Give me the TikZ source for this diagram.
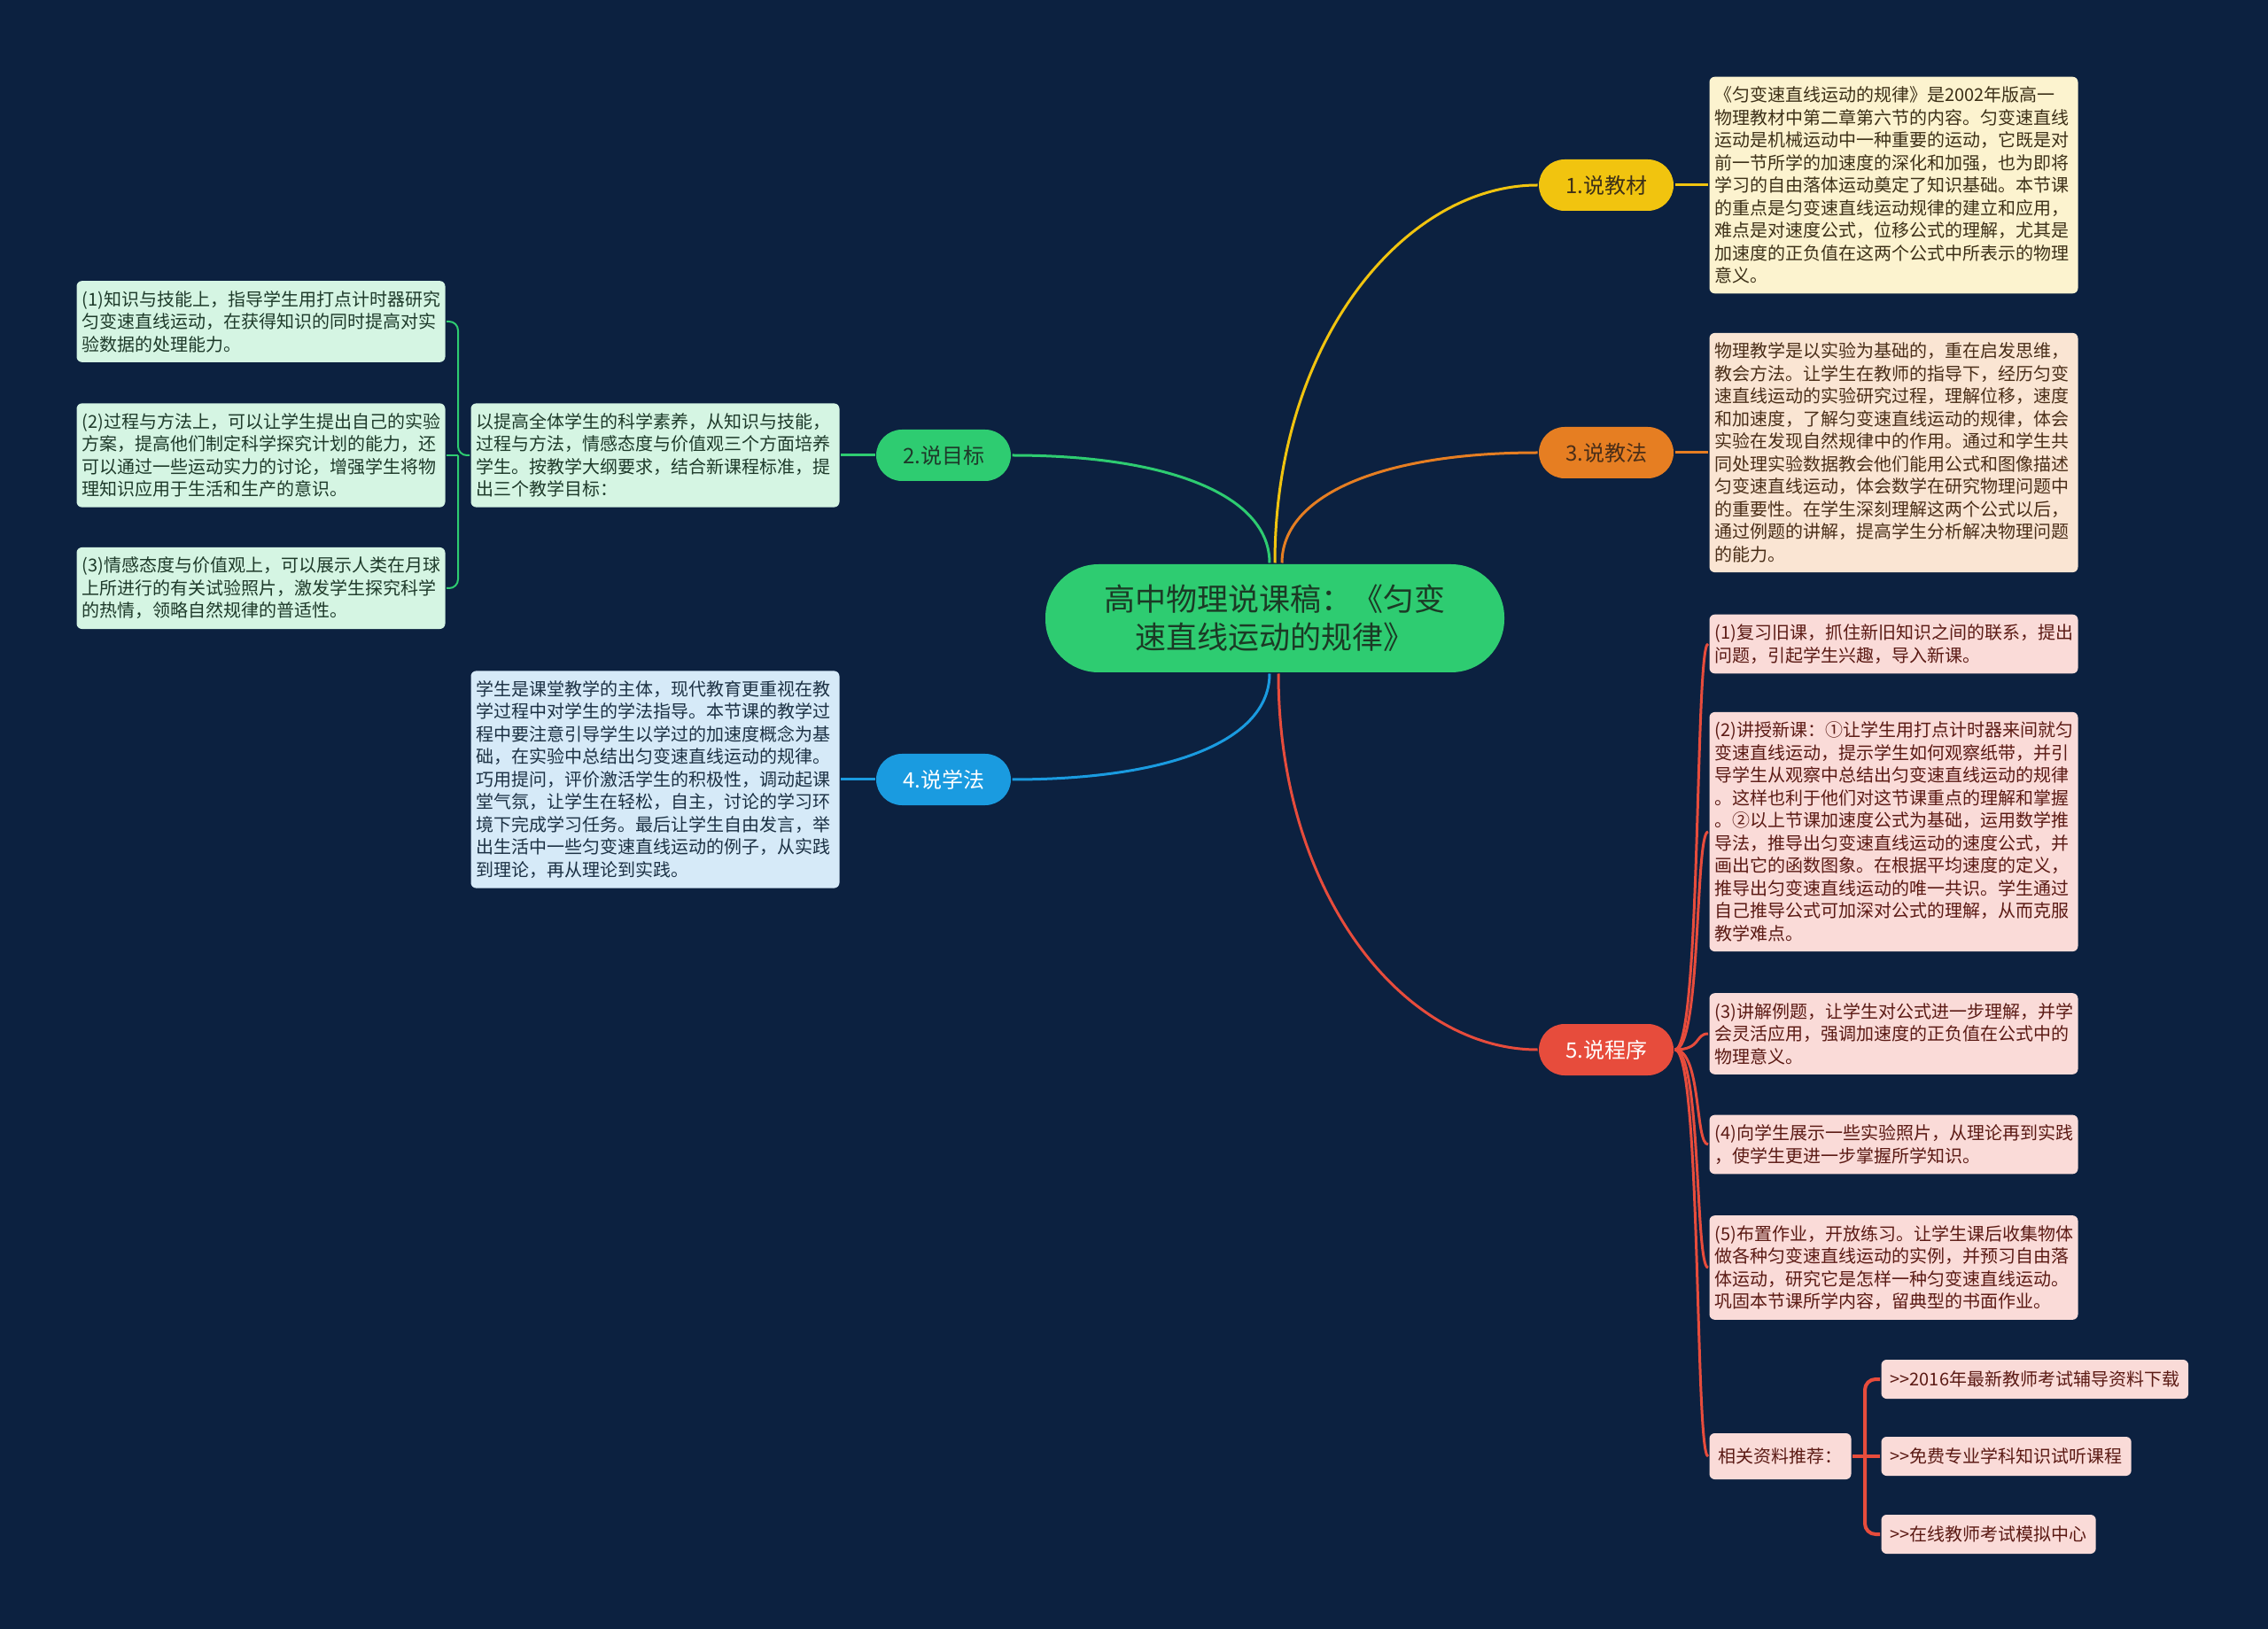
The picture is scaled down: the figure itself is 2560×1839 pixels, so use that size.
\documentclass[tikz,border=0pt]{standalone}
\usepackage{fontspec}
\setmainfont{Noto Sans CJK SC}
\usepackage{xcolor}
\usepackage{tikz}

\definecolor{bgcol}{HTML}{0C2140}
\definecolor{rootcol}{HTML}{2ECC71}
\definecolor{roottxt}{HTML}{1B3A25}
\definecolor{yelcol}{HTML}{F1C40F}
\definecolor{yelfill}{HTML}{FCF3CF}
\definecolor{yeltxt}{HTML}{3D3018}
\definecolor{grncol}{HTML}{2ECC71}
\definecolor{grnfill}{HTML}{D5F5E3}
\definecolor{grntxt}{HTML}{1E3A2A}
\definecolor{oracol}{HTML}{E67E22}
\definecolor{orafill}{HTML}{FAE5D3}
\definecolor{oratxt}{HTML}{4A2E18}
\definecolor{blucol}{HTML}{1A9BE0}
\definecolor{blufill}{HTML}{D6EAF8}
\definecolor{blutxt}{HTML}{1C3144}
\definecolor{redcol}{HTML}{E74C3C}
\definecolor{redfill}{HTML}{FADBD8}
\definecolor{redtxt}{HTML}{5B1A14}

\begin{document}
\begin{tikzpicture}[x=0.5pt,y=-0.5pt,line width=1.5pt,
  every node/.style={inner sep=0pt},
  root/.style={fill=rootcol,text=roottxt,rounded corners=30pt,minimum width=259pt,
    minimum height=61pt,align=center,font=\fontsize{17.5pt}{21.5pt}\selectfont},
  topic/.style={rounded corners=14.5pt,minimum width=76pt,minimum height=29pt,
    font=\fontsize{12pt}{14pt}\selectfont},
  leaf/.style={anchor=west,rounded corners=3pt,text width=202pt,inner xsep=3pt,
    inner ysep=5.5pt,align=left,font=\fontsize{10pt}{12.75pt}\selectfont},
  tag/.style={anchor=west,fill=redfill,text=redtxt,rounded corners=3pt,inner xsep=5pt,
    minimum height=22pt,font=\fontsize{10pt}{12pt}\selectfont}]
  \useasboundingbox (0,0) rectangle (2560,1839);
  \fill[bgcol] (0,0) rectangle (2560,1839);

  \node[root] (root) at (1439,698) {高中物理说课稿：《匀变\\速直线运动的规律》};

  \node[topic,fill=yelcol,text=yeltxt] (b1) at (1813,209) {1.说教材};
  \node[topic,fill=grncol,text=grntxt] (b2) at (1065,514) {2.说目标};
  \node[topic,fill=oracol,text=oratxt] (b3) at (1813,511) {3.说教法};
  \node[topic,fill=blucol,text=white]  (b4) at (1065,880) {4.说学法};
  \node[topic,fill=redcol,text=white]  (b5) at (1813,1185) {5.说程序};

  \draw[yelcol] (root.north) .. controls +(0,-250) and +(-150,0) .. (b1.west);
  \draw[grncol] ([xshift=-3pt]root.north) .. controls +(0,-75) and +(180,0) .. (b2.east);
  \draw[oracol] ([xshift=4pt]root.north) .. controls +(0,-75) and +(-180,0) .. (b3.west);
  \draw[blucol] ([xshift=-3pt]root.south) .. controls +(0,75) and +(180,0) .. (b4.east);
  \draw[redcol] ([xshift=2pt]root.south) .. controls +(0,250) and +(-150,0) .. (b5.west);

  % 1.说教材
  \node[leaf,fill=yelfill,text=yeltxt] (t1) at (1928,209) {《匀变速直线运动的规律》是2002年版高一\\物理教材中第二章第六节的内容。匀变速直线\\运动是机械运动中一种重要的运动，它既是对\\前一节所学的加速度的深化和加强，也为即将\\学习的自由落体运动奠定了知识基础。本节课\\的重点是匀变速直线运动规律的建立和应用，\\难点是对速度公式，位移公式的理解，尤其是\\加速度的正负值在这两个公式中所表示的物理\\意义。};
  \draw[yelcol] (b1.east) -- (t1.west);

  % 3.说教法
  \node[leaf,fill=orafill,text=oratxt] (t3) at (1928,511) {物理教学是以实验为基础的，重在启发思维，\\教会方法。让学生在教师的指导下，经历匀变\\速直线运动的实验研究过程，理解位移，速度\\和加速度，了解匀变速直线运动的规律，体会\\实验在发现自然规律中的作用。通过和学生共\\同处理实验数据教会他们能用公式和图像描述\\匀变速直线运动，体会数学在研究物理问题中\\的重要性。在学生深刻理解这两个公式以后，\\通过例题的讲解，提高学生分析解决物理问题\\的能力。};
  \draw[oracol] (b3.east) -- (t3.west);

  % 2.说目标
  \node[leaf,anchor=east,fill=grnfill,text=grntxt] (g0) at (949,514) {以提高全体学生的科学素养，从知识与技能，\\过程与方法，情感态度与价值观三个方面培养\\学生。按教学大纲要求，结合新课程标准，提\\出三个教学目标：};
  \node[leaf,fill=grnfill,text=grntxt] (g1) at (85,363) {(1)知识与技能上，指导学生用打点计时器研究\\匀变速直线运动，在获得知识的同时提高对实\\验数据的处理能力。};
  \node[leaf,fill=grnfill,text=grntxt] (g2) at (85,514) {(2)过程与方法上，可以让学生提出自己的实验\\方案，提高他们制定科学探究计划的能力，还\\可以通过一些运动实力的讨论，增强学生将物\\理知识应用于生活和生产的意识。};
  \node[leaf,fill=grnfill,text=grntxt] (g3) at (85,664) {(3)情感态度与价值观上，可以展示人类在月球\\上所进行的有关试验照片，激发学生探究科学\\的热情，领略自然规律的普适性。};
  \coordinate (gj) at (517,514);
  \draw[grncol] (b2.west) -- (g0.east);
  \draw[grncol,line width=1pt,rounded corners=5pt] (g0.west) -- (gj) |- (g1.east);
  \draw[grncol,line width=1pt,rounded corners=5pt] (gj) |- (g3.east);
  \draw[grncol,line width=1pt] (gj) -- (g2.east);

  % 4.说学法
  \node[leaf,anchor=east,fill=blufill,text=blutxt] (l0) at (949,880) {学生是课堂教学的主体，现代教育更重视在教\\学过程中对学生的学法指导。本节课的教学过\\程中要注意引导学生以学过的加速度概念为基\\础，在实验中总结出匀变速直线运动的规律。\\巧用提问，评价激活学生的积极性，调动起课\\堂气氛，让学生在轻松，自主，讨论的学习环\\境下完成学习任务。最后让学生自由发言，举\\出生活中一些匀变速直线运动的例子，从实践\\到理论，再从理论到实践。};
  \draw[blucol] (b4.west) -- (l0.east);

  % 5.说程序
  \node[leaf,fill=redfill,text=redtxt] (p1) at (1928,727) {(1)复习旧课，抓住新旧知识之间的联系，提出\\问题，引起学生兴趣，导入新课。};
  \node[leaf,fill=redfill,text=redtxt] (p2) at (1928,939) {(2)讲授新课：①让学生用打点计时器来间就匀\\变速直线运动，提示学生如何观察纸带，并引\\导学生从观察中总结出匀变速直线运动的规律\\。这样也利于他们对这节课重点的理解和掌握\\。②以上节课加速度公式为基础，运用数学推\\导法，推导出匀变速直线运动的速度公式，并\\画出它的函数图象。在根据平均速度的定义，\\推导出匀变速直线运动的唯一共识。学生通过\\自己推导公式可加深对公式的理解，从而克服\\教学难点。};
  \node[leaf,fill=redfill,text=redtxt] (p3) at (1928,1167) {(3)讲解例题，让学生对公式进一步理解，并学\\会灵活应用，强调加速度的正负值在公式中的\\物理意义。};
  \node[leaf,fill=redfill,text=redtxt] (p4) at (1928,1292) {(4)向学生展示一些实验照片，从理论再到实践\\，使学生更进一步掌握所学知识。};
  \node[leaf,fill=redfill,text=redtxt] (p5) at (1928,1431) {(5)布置作业，开放练习。让学生课后收集物体\\做各种匀变速直线运动的实例，并预习自由落\\体运动，研究它是怎样一种匀变速直线运动。\\巩固本节课所学内容，留典型的书面作业。};
  \node[tag,minimum height=26pt] (rec) at (1928,1644) {相关资料推荐：};
  \foreach \p in {p1,p2,p3,p4,p5,rec}
    \draw[redcol] (b5.east) .. controls +(30,0) and +(-15,0) .. (\p.west);

  \node[tag] (r1) at (2122,1557) {>{}>2016年最新教师考试辅导资料下载};
  \node[tag] (r2) at (2122,1644) {>{}>免费专业学科知识试听课程};
  \node[tag] (r3) at (2122,1732) {>{}>在线教师考试模拟中心};
  \coordinate (rj) at (2105,1644);
  \draw[redcol,line width=2pt] (rec.east) -- (r2.west);
  \draw[redcol,line width=2pt,rounded corners=6pt] (rj) |- (r1.west);
  \draw[redcol,line width=2pt,rounded corners=6pt] (rj) |- (r3.west);
\end{tikzpicture}
\end{document}
